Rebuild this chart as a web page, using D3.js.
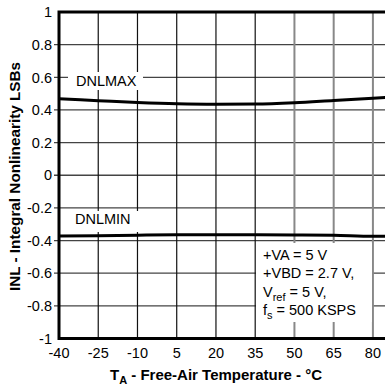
<!DOCTYPE html>
<html>
<head>
<meta charset="utf-8">
<script src="https://cdn.jsdelivr.net/npm/d3@7"></script>
<style>
  html, body { margin: 0; padding: 0; background: #fff; }
  svg { display: block; font-family: "Liberation Sans", Arial, sans-serif; }
</style>
</head>
<body>
<svg id="chart" width="385" height="387"></svg>
<script>
// Temperature points (°C) and measured DNL extremes (LSB)
const temperature = [-40, -25, -10, 5, 20, 35, 50, 65, 80, 85];
const dnlMax = [0.468, 0.457, 0.446, 0.438, 0.435, 0.436, 0.444, 0.458, 0.472, 0.476];
const dnlMin = [-0.372, -0.370, -0.367, -0.365, -0.365, -0.365, -0.366, -0.368, -0.374, -0.374];
const xTicks = [-40, -25, -10, 5, 20, 35, 50, 65, 80];
const yTicks = [-1, -0.8, -0.6, -0.4, -0.2, 0, 0.2, 0.4, 0.6, 0.8, 1];
const conditions = ["+VA = 5 V", "+VBD = 2.7 V,", "V|ref| = 5 V,", "f|s| = 500 KSPS"];

const svg = d3.select("#chart");
const plotLeft = 59, plotRight = 386, plotTop = 12, plotBottom = 338.5;

const x = d3.scaleLinear().domain([-40, 85]).range([plotLeft, plotRight]);
const y = d3.scaleLinear().domain([-1, 1]).range([plotBottom, plotTop]);

// horizontal grid
svg.append("g").selectAll("line").data(yTicks.filter(d => d > -1 && d < 1)).join("line")
  .attr("x1", plotLeft - 5).attr("x2", plotRight)
  .attr("y1", d => y(d)).attr("y2", d => y(d))
  .attr("stroke", "#444").attr("stroke-width", 1.3);

// vertical grid
svg.append("g").selectAll("line").data(xTicks.filter(d => d > -40)).join("line")
  .attr("x1", d => x(d)).attr("x2", d => x(d))
  .attr("y1", plotTop).attr("y2", plotBottom)
  .attr("stroke", d => d >= 50 ? "#888" : "#111")
  .attr("stroke-width", d => d >= 50 ? 2 : 1.2);

// white panels behind the annotations
svg.append("rect").attr("x", 256).attr("y", 243).attr("width", 116).attr("height", 79).attr("fill", "#fff");
svg.append("rect").attr("x", 68).attr("y", 72).attr("width", 75).attr("height", 18).attr("fill", "#fff");
svg.append("rect").attr("x", 68).attr("y", 211).attr("width", 72).attr("height", 21).attr("fill", "#fff");

// curves
const line = d3.line().x((d, i) => x(temperature[i])).y(d => y(d)).curve(d3.curveMonotoneX);
[dnlMax, dnlMin].forEach(series => {
  svg.append("path").datum(series).attr("d", line)
    .attr("fill", "none").attr("stroke", "#000").attr("stroke-width", 3);
});

// frame
svg.append("path")
  .attr("d", `M${plotRight + 2},${plotTop} H${plotLeft} V${plotBottom} H${plotRight + 2}`)
  .attr("fill", "none").attr("stroke", "#000").attr("stroke-width", 3);

// y tick labels (plain hyphen for negatives)
svg.append("g").selectAll("text").data(yTicks).join("text")
  .attr("x", 52).attr("y", d => y(d)).attr("dy", "0.36em")
  .attr("text-anchor", "end").attr("font-size", 14.5)
  .text(d => String(d));

// x tick labels
svg.append("g").selectAll("text").data(xTicks).join("text")
  .attr("x", d => x(d)).attr("y", 358)
  .attr("text-anchor", "middle").attr("font-size", 14.5)
  .text(d => String(d));

// series labels
svg.append("text").attr("x", 76).attr("y", 85.5).attr("font-size", 14.5).text("DNLMAX");
svg.append("text").attr("x", 75).attr("y", 223.5).attr("font-size", 14.5).text("DNLMIN");

// operating conditions
conditions.forEach((s, i) => {
  const t = svg.append("text").attr("x", 263).attr("y", 260 + i * 18.4).attr("font-size", 14.5);
  const parts = s.split("|");
  t.append("tspan").text(parts[0]);
  if (parts.length > 1) {
    t.append("tspan").attr("font-size", 11).attr("dy", 4).text(parts[1]);
    t.append("tspan").attr("dy", -4).text(parts[2]);
  }
});

// axis titles
const xt = svg.append("text").attr("x", 216).attr("y", 380).attr("text-anchor", "middle")
  .attr("font-size", 15).attr("font-weight", "bold");
xt.append("tspan").text("T");
xt.append("tspan").attr("font-size", 11).attr("dy", 4).text("A");
xt.append("tspan").attr("dy", -4).text(" - Free-Air Temperature - °C");

svg.append("text")
  .attr("transform", `translate(20,176.5) rotate(-90)`)
  .attr("text-anchor", "middle").attr("font-size", 15.3).attr("font-weight", "bold")
  .text("INL - Integral Nonlinearity LSBs");
</script>
</body>
</html>
